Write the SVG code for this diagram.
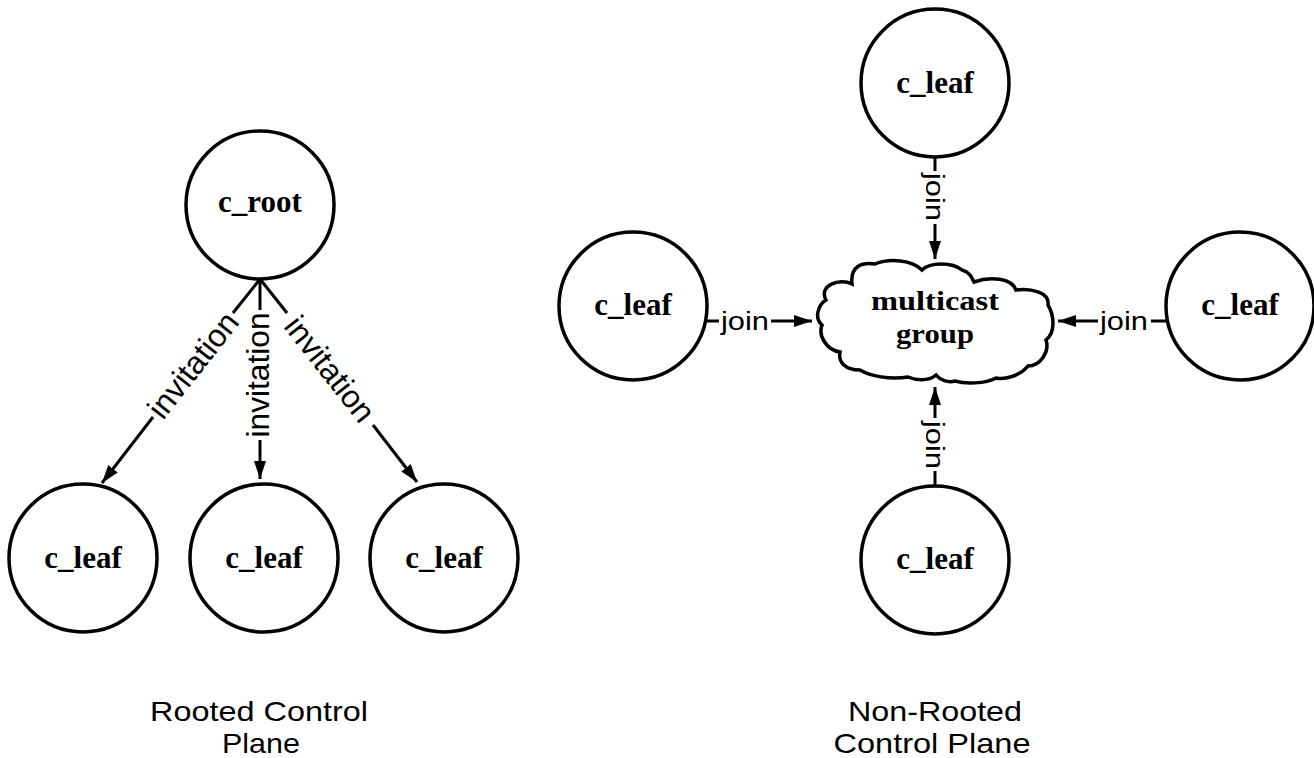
<svg xmlns="http://www.w3.org/2000/svg" width="1314" height="758" viewBox="0 0 1314 758">
  <style>
    .node { fill: #ffffff; stroke: #000000; stroke-width: 3.5; }
    .name { font-family: "Liberation Serif", "Times New Roman", serif; font-weight: bold; font-size: 31px; fill: #000000; text-anchor: middle; }
    .cloudtext { font-family: "Liberation Serif", "Times New Roman", serif; font-weight: bold; font-size: 28px; fill: #000000; text-anchor: middle; }
    .edge { stroke: #000000; stroke-width: 3; fill: none; }
    .arrow { stroke: #000000; stroke-width: 3; fill: none; marker-end: url(#head); }
    .lbl { font-family: "Liberation Sans", Arial, sans-serif; font-size: 32px; fill: #000000; text-anchor: middle; dominant-baseline: central; }
    .join { font-family: "Liberation Sans", Arial, sans-serif; font-size: 25px; fill: #000000; text-anchor: middle; }
    .caption { font-family: "Liberation Sans", Arial, sans-serif; font-size: 28px; fill: #000000; text-anchor: middle; }
  </style>
  <defs>
    <marker id="head" viewBox="0 0 18 12" refX="18" refY="6" markerWidth="18" markerHeight="12" markerUnits="userSpaceOnUse" orient="auto">
      <path d="M0,0 L18,6 L0,12 Z" fill="#000000"/>
    </marker>
  </defs>
  <rect x="0" y="0" width="1314" height="758" fill="#ffffff"/>

  <!-- Rooted control plane -->
  <g id="c_root">
    <circle class="node" cx="260" cy="205" r="74"/>
    <text class="name" x="260" y="212">c_root</text>
  </g>
  <g id="leaf_rooted_1">
    <circle class="node" cx="83" cy="558" r="74"/>
    <text class="name" x="83" y="568">c_leaf</text>
  </g>
  <g id="leaf_rooted_2">
    <circle class="node" cx="264" cy="558" r="74"/>
    <text class="name" x="264" y="568">c_leaf</text>
  </g>
  <g id="leaf_rooted_3">
    <circle class="node" cx="444" cy="558" r="74"/>
    <text class="name" x="444" y="568">c_leaf</text>
  </g>

  <!-- Non-rooted control plane -->
  <g id="multicast_group">
    <path class="node" d="M826,300 C818,285 840,278 852,284 C850,266 862,262 875,264 C890,258 912,260 922,270 C930,262 952,262 962,270 C970,272 972,278 974,282 C990,276 1012,278 1016,290 C1030,288 1050,292 1048,305 C1054,315 1056,332 1046,340 C1050,352 1040,366 1028,366 C1020,376 1004,380 996,378 C985,384 965,384 955,381 C948,383 940,380 936,375 C928,382 915,380 908,377 C890,380 870,376 860,370 C845,370 838,362 840,352 C826,350 818,335 822,325 C814,318 818,305 826,300 Z"/>
    <text class="cloudtext" x="935" y="310" textLength="128" lengthAdjust="spacingAndGlyphs">multicast</text>
    <text class="cloudtext" x="935" y="343" textLength="78" lengthAdjust="spacingAndGlyphs">group</text>
  </g>
  <g id="leaf_top">
    <circle class="node" cx="935" cy="83" r="74"/>
    <text class="name" x="935" y="93">c_leaf</text>
  </g>
  <g id="leaf_left">
    <circle class="node" cx="633" cy="306" r="74"/>
    <text class="name" x="633" y="315">c_leaf</text>
  </g>
  <g id="leaf_right">
    <circle class="node" cx="1240" cy="306" r="74"/>
    <text class="name" x="1240" y="315">c_leaf</text>
  </g>
  <g id="leaf_bottom">
    <circle class="node" cx="935" cy="560" r="74"/>
    <text class="name" x="935" y="569">c_leaf</text>
  </g>

  <!-- Connectors -->
  <g id="connectors">
    <!-- invitations from c_root -->
    <line class="edge" x1="260" y1="279" x2="233" y2="313"/>
    <line class="arrow" x1="153" y1="417" x2="102" y2="483"/>
    <text class="lbl" transform="translate(193,365) rotate(-51.8)" textLength="125" lengthAdjust="spacingAndGlyphs">invitation</text>

    <line class="edge" x1="260" y1="279" x2="260" y2="310"/>
    <line class="arrow" x1="260" y1="440" x2="260" y2="479"/>
    <text class="lbl" transform="translate(258,375) rotate(-90)" textLength="125" lengthAdjust="spacingAndGlyphs">invitation</text>

    <line class="edge" x1="260" y1="279" x2="287" y2="313"/>
    <line class="arrow" x1="373" y1="425" x2="417" y2="482"/>
    <text class="lbl" transform="translate(330,369) rotate(51.8)" textLength="125" lengthAdjust="spacingAndGlyphs">invitation</text>

    <!-- joins into the multicast group -->
    <line class="edge" x1="935" y1="157" x2="935" y2="171"/>
    <line class="arrow" x1="935" y1="224" x2="935" y2="259"/>
    <text class="join" transform="translate(935,197) rotate(90)" dy="9" textLength="48" lengthAdjust="spacingAndGlyphs">join</text>

    <line class="edge" x1="707" y1="321" x2="719" y2="321"/>
    <line class="arrow" x1="771" y1="321" x2="812" y2="321"/>
    <text class="join" x="745" y="330" textLength="48" lengthAdjust="spacingAndGlyphs">join</text>

    <line class="edge" x1="1166" y1="321" x2="1151" y2="321"/>
    <line class="arrow" x1="1098" y1="321" x2="1058" y2="321"/>
    <text class="join" x="1124" y="330" textLength="48" lengthAdjust="spacingAndGlyphs">join</text>

    <line class="edge" x1="935" y1="486" x2="935" y2="471"/>
    <line class="arrow" x1="935" y1="418" x2="935" y2="387"/>
    <text class="join" transform="translate(935,445) rotate(90)" dy="9" textLength="48" lengthAdjust="spacingAndGlyphs">join</text>
  </g>

  <!-- Captions -->
  <text class="caption" x="259" y="721" textLength="218" lengthAdjust="spacingAndGlyphs">Rooted Control</text>
  <text class="caption" x="261" y="753" textLength="78" lengthAdjust="spacingAndGlyphs">Plane</text>
  <text class="caption" x="935" y="721" textLength="174" lengthAdjust="spacingAndGlyphs">Non-Rooted</text>
  <text class="caption" x="932" y="753" textLength="197" lengthAdjust="spacingAndGlyphs">Control Plane</text>
</svg>
